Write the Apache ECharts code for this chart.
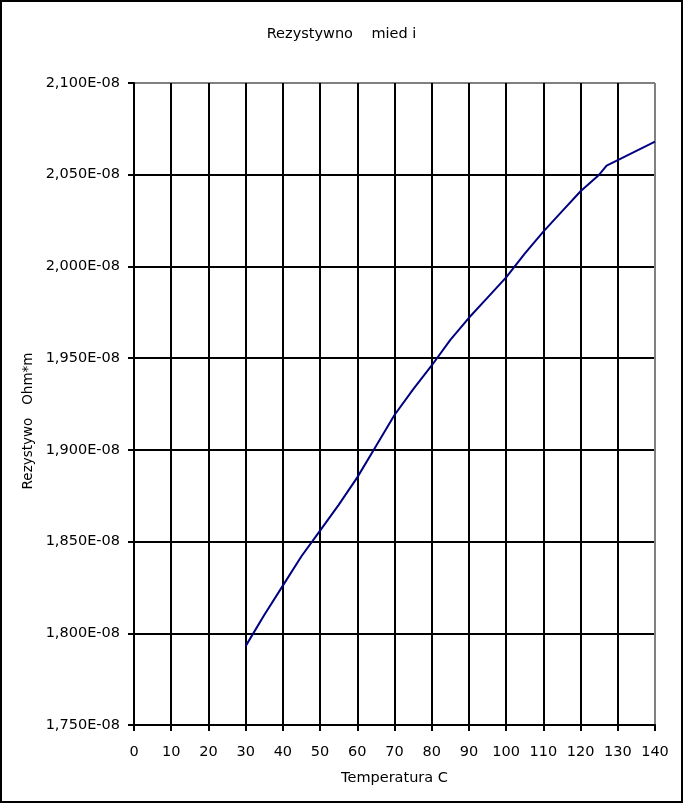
<!DOCTYPE html>
<html>
<head>
<meta charset="utf-8">
<script src="https://cdn.jsdelivr.net/npm/echarts@6/dist/echarts.min.js"></script>
<style>
html,body{margin:0;padding:0;background:#fff;}
#chart{width:683px;height:804px;}
</style>
</head>
<body>
<div id="chart"></div>
<script>
// Temperature [C]
const temperatures = [30, 35, 40, 45, 50, 55, 60, 65, 70, 75, 80, 85, 90, 95, 100, 105, 110, 115, 120, 125, 127, 130, 135, 140];
// Resistivity [Ohm*m]
const resistivity = [1.793e-8, 1.810e-8, 1.826e-8, 1.842e-8, 1.856e-8, 1.870e-8, 1.885e-8, 1.902e-8, 1.919e-8, 1.933e-8,
                     1.946e-8, 1.960e-8, 1.972e-8, 1.983e-8, 1.994e-8, 2.007e-8, 2.019e-8, 2.030e-8, 2.041e-8, 2.050e-8,
                     2.055e-8, 2.058e-8, 2.063e-8, 2.068e-8];
const titleText = 'Rezystywno    mied i';
const xName = 'Temperatura C';
const yName = 'Rezystywo   Ohm*m';

const FONT = 'DejaVu Sans';
const FS = 14.5;
const chart = echarts.init(document.getElementById('chart'));
const data = temperatures.map((t, i) => [t, resistivity[i]]);
const fmtY = v => (v * 1e8).toFixed(3).replace('.', ',') + 'E-08';

chart.setOption({
  animation: false,
  backgroundColor: '#fff',
  title: {
    text: titleText, left: 'center', top: 22,
    textStyle: {fontFamily: FONT, fontSize: FS, fontWeight: 'normal', color: '#000'}
  },
  grid: {left: 134, top: 83, right: 28, bottom: 79, containLabel: false},
  xAxis: {
    type: 'value', min: 0, max: 140, interval: 10,
    name: xName, nameLocation: 'middle', nameGap: 46,
    nameTextStyle: {fontFamily: FONT, fontSize: FS, color: '#000'},
    axisLine: {show: true, onZero: false, lineStyle: {color: '#000', width: 2}},
    axisTick: {show: true, inside: false, length: 6, lineStyle: {color: '#000', width: 2}},
    axisLabel: {fontFamily: FONT, fontSize: FS, color: '#000', margin: 20},
    splitLine: {show: true, lineStyle: {color: ['#000','#000','#000','#000','#000','#000','#000','#000','#000','#000','#000','#000','#000','#000','#808080'], width: 2}}
  },
  yAxis: {
    type: 'value', min: 1.75e-8, max: 2.1e-8, interval: 5e-10,
    axisLine: {show: true, onZero: false, lineStyle: {color: '#000', width: 2}},
    axisTick: {show: true, inside: false, length: 6, lineStyle: {color: '#000', width: 2}},
    axisLabel: {fontFamily: FONT, fontSize: FS, color: '#000', margin: 14, formatter: fmtY},
    splitLine: {show: true, lineStyle: {color: ['#000','#000','#000','#000','#000','#000','#000','#808080'], width: 2}}
  },
  graphic: [
    {type: 'rect', shape: {x: 1, y: 1, width: 681, height: 801}, style: {fill: 'none', stroke: '#000', lineWidth: 2}, z: 100},
    {type: 'text', x: 28, y: 421, rotation: Math.PI / 2,
     style: {text: yName, fontFamily: FONT, fontSize: 13.5, fill: '#000', align: 'center', verticalAlign: 'middle'}}
  ],
  series: [{
    type: 'line', data: data, showSymbol: false, smooth: false,
    lineStyle: {color: '#000080', width: 2}
  }]
});
</script>
</body>
</html>
